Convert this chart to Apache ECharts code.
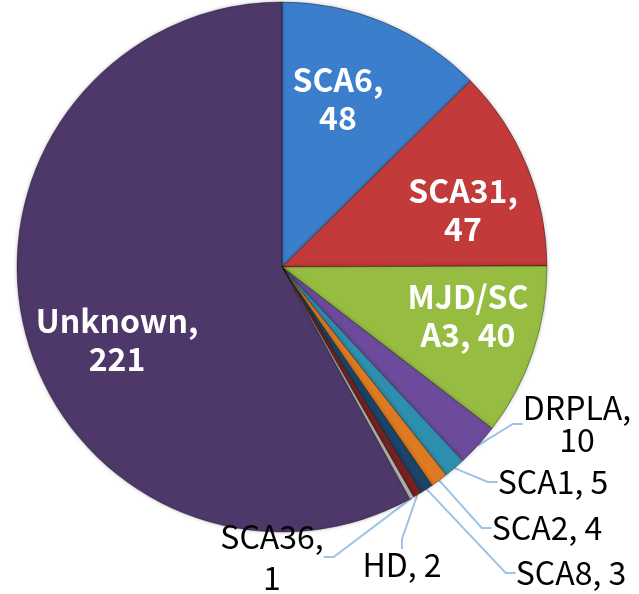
<!DOCTYPE html>
<html>
<head>
<meta charset="utf-8">
<script src="https://cdn.jsdelivr.net/npm/echarts@6/dist/echarts.min.js"></script>
<style>
  html, body { margin: 0; padding: 0; background: #fff; }
  #chart { width: 639px; height: 594px; }
</style>
</head>
<body>
<div id="chart"></div>
<script>
var names = ['SCA6', 'SCA31', 'MJD/SCA3', 'DRPLA', 'SCA1', 'SCA2', 'SCA8', 'HD', 'SCA36', 'Unknown'];
var counts = [48, 47, 40, 10, 5, 4, 3, 2, 1, 221];
var colors = ['#3b7fcc', '#c23b3a', '#96bd42', '#6c4b9c', '#2f8fae', '#de7a22', '#1d4468', '#7a2222', '#b8b8b8', '#4e3769'];

// where each label sits (centre of text)
var labelSpots = [
    [338, 99], [463, 210], [468, 316], [577, 424], [553, 482],
    [547, 528], [571, 573], [402, 565], [272, 557], [117, 340]
];
var insideCount = 3; // first three + Unknown labelled inside

var myChart = echarts.init(document.getElementById('chart'));

var data = names.map(function(n, i) {
    var inside = i < insideCount || n === 'Unknown';
    var twoLine = inside || n === 'DRPLA' || n === 'SCA36';
    var item = {
        name: n,
        value: counts[i],
        itemStyle: { color: colors[i] },
        label: {
            formatter: n + (twoLine ? ',\n' : ', ') + counts[i],
            color: inside ? '#ffffff' : '#000000',
            fontWeight: inside ? 'bold' : 'normal',
            fontSize: inside ? 32 : 32,
            lineHeight: inside ? 38 : (n === 'SCA36' ? 41 : 32)
        },
        labelLine: { show: !inside }
    };
    if (n === 'MJD/SCA3') {
        item.label.formatter = n + ', ' + counts[i];
        item.label.width = 125;
        item.label.overflow = 'breakAll';
    }
    return item;
});

var option = {
    animation: false,
    series: [
        {
            type: 'pie',
            center: [282, 267],
            radius: 265,
            startAngle: 90,
            clockwise: true,
            avoidLabelOverlap: false,
            itemStyle: {
                borderColor: 'rgba(0,0,0,0.35)',
                borderWidth: 1,
                shadowBlur: 4,
                shadowColor: 'rgba(0,0,0,0.25)'
            },
            label: {
                show: true,
                position: 'outside',
                fontFamily: 'Noto Sans CJK JP',
                align: 'center'
            },
            labelLine: {
                show: true,
                length: 20,
                length2: 10,
                lineStyle: { color: '#9dc3e6', width: 2, shadowBlur: 0 }
            },
            labelLayout: function(params) {
                var p = labelSpots[params.dataIndex];
                return { x: p[0], y: p[1], align: 'center', verticalAlign: 'middle' };
            },
            data: data
        }
    ]
};

myChart.setOption(option);
</script>
</body>
</html>
